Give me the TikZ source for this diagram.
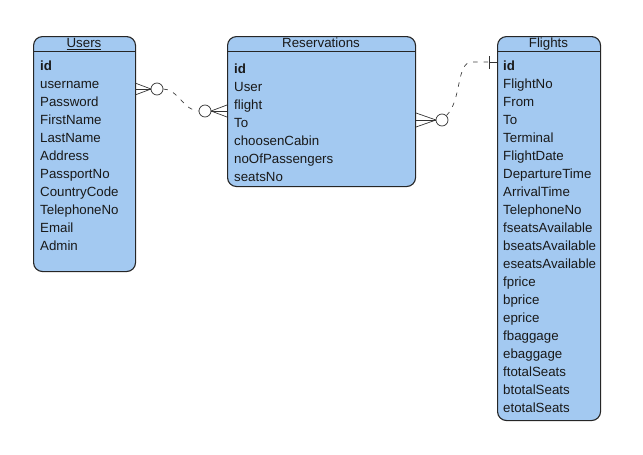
\documentclass[tikz,border=0pt]{standalone}
\usepackage{fontspec}
\setmainfont{Liberation Sans}
\begin{document}
\begin{tikzpicture}[x=1pt,y=-1pt,
  tbl/.style={draw=black!85, line width=1.1pt, fill=tblblue, rounded corners=9pt, inner sep=0pt, anchor=north west},
  hdr/.style={draw=black!85, line width=1pt},
  ttl/.style={font=\fontsize{13.3}{14}\selectfont, inner sep=0pt, text=black!90, text height=9.6pt, text depth=2.6pt},
  fld/.style={font=\fontsize{13.3}{14}\selectfont, inner sep=0pt, anchor=west, text=black!90, text height=9.6pt, text depth=2.6pt},
  rel/.style={line width=0.7pt, draw=black!80},
  dsh/.style={line width=0.7pt, draw=black!75, dash pattern=on 4.5pt off 6pt},
  circ/.style={draw=black!80, line width=0.7pt, fill=white, circle, minimum size=12pt, inner sep=0pt}
]
\definecolor{tblblue}{RGB}{163,201,241}
\useasboundingbox (0,0) rectangle (643,455);

% Tables
\node[tbl, minimum width=102pt, minimum height=235pt] (users) at (33,36) {};
\node[tbl, minimum width=188pt, minimum height=150pt] (res) at (227,36) {};
\node[tbl, minimum width=103pt, minimum height=384pt] (flights) at (497,36) {};

\draw[hdr] ([yshift=-15pt]users.north west) -- ([yshift=-15pt]users.north east);
\draw[hdr] ([yshift=-15pt]res.north west) -- ([yshift=-15pt]res.north east);
\draw[hdr] ([yshift=-15pt]flights.north west) -- ([yshift=-15pt]flights.north east);

\node[ttl] (usersT) at (84,44) {\underline{Users}};
\node[ttl] (resT) at (321,44) {Reservations};
\node[ttl] (flightsT) at (548.5,44) {Flights};

% Users fields
\foreach \t [count=\i from 0] in {{\textbf{id}},username,Password,FirstName,LastName,Address,PassportNo,CountryCode,TelephoneNo,Email,Admin}
  \node[fld] (u\i) at (40,66.5+18*\i) {\t};

% Reservations fields
\foreach \t [count=\i from 0] in {{\textbf{id}},User,flight,To,choosenCabin,noOfPassengers,seatsNo}
  \node[fld] (r\i) at (234,69.5+18*\i) {\t};

% Flights fields
\foreach \t [count=\i from 0] in {{\textbf{id}},FlightNo,From,To,Terminal,FlightDate,DepartureTime,ArrivalTime,TelephoneNo,fseatsAvailable,bseatsAvailable,eseatsAvailable,fprice,bprice,eprice,fbaggage,ebaggage,ftotalSeats,btotalSeats,etotalSeats}
  \node[fld] (f\i) at (503,66.5+18*\i) {\t};

% Relation Users -- Reservations
\coordinate (uA) at (135,89);
\coordinate (uB) at (151,89);
\draw[rel] (uA) -- (uB);
\draw[rel] ([yshift=-6pt]uA) -- (uB);
\draw[rel] ([yshift=6pt]uA) -- (uB);
\node[circ] (c1) at (157,89) {};

\coordinate (rA) at (227,111);
\coordinate (rB) at (211,111);
\draw[rel] (rA) -- (rB);
\draw[rel] ([yshift=-6pt]rA) -- (rB);
\draw[rel] ([yshift=6pt]rA) -- (rB);
\node[circ] (c2) at (205,111) {};

\draw[dsh] (c1.east) .. controls (178,89) and (184,111) .. (c2.west);

% Relation Reservations -- Flights
\coordinate (rC) at (416,120);
\coordinate (rD) at (436,120);
\draw[rel] (rC) -- (rD);
\draw[rel] ([yshift=-7pt]rC) -- (rD);
\draw[rel] ([yshift=7pt]rC) -- (rD);
\node[circ] (c3) at (442,120) {};

\coordinate (fA) at (497,62);
\coordinate (fB) at (489,62);
\draw[rel] (fA) -- (fB);
\draw[rel] ([yshift=-6.5pt]fB) -- ([yshift=6.5pt]fB);
\draw[dsh] (c3.north east) .. controls (462,100) and (456,62) .. (472,62) -- (fB);
\end{tikzpicture}
\end{document}
